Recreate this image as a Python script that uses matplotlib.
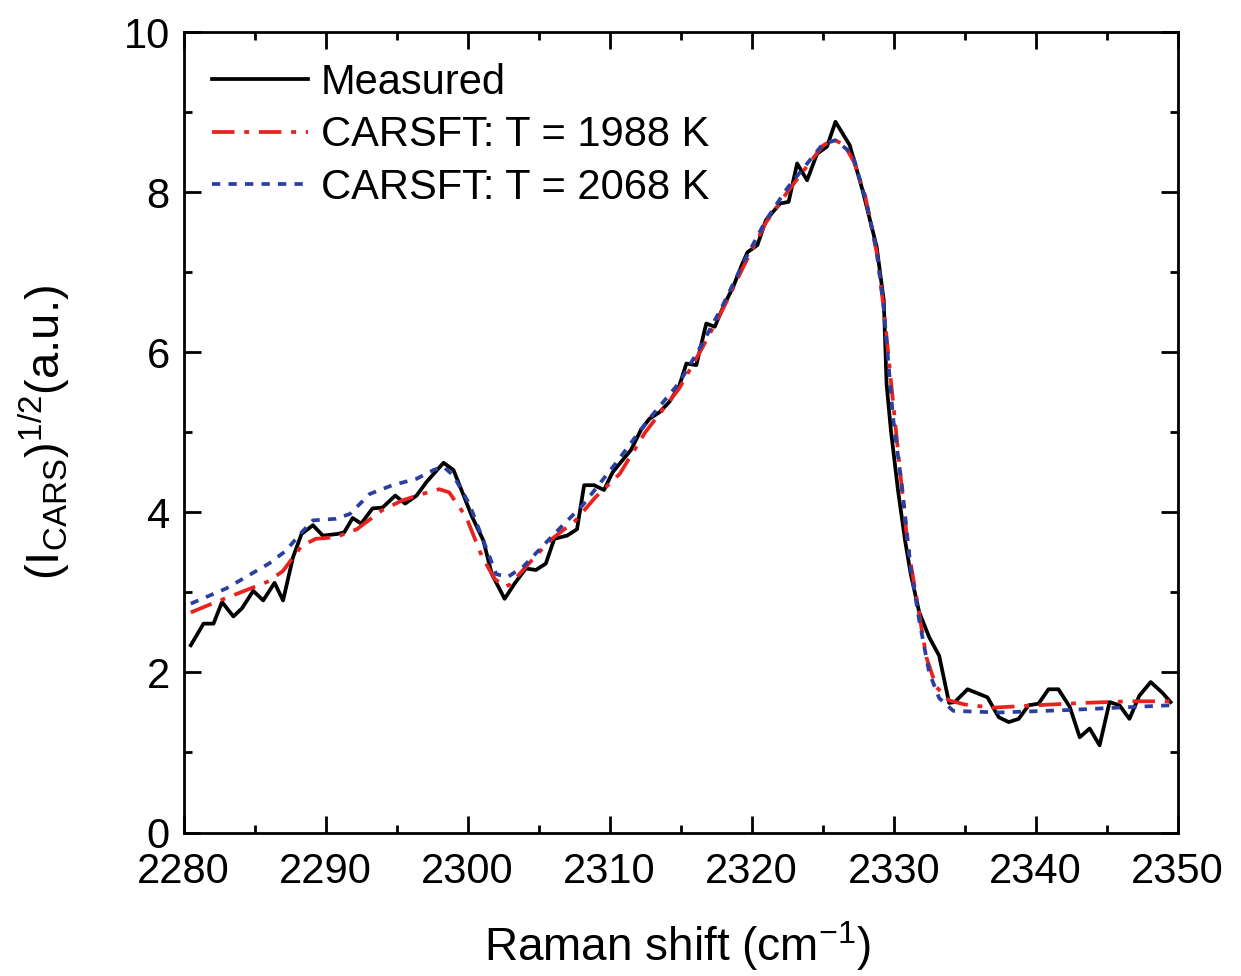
import numpy as np
import matplotlib
matplotlib.use("Agg")
import matplotlib.pyplot as plt
from matplotlib.ticker import MultipleLocator

plt.rcParams['font.family'] = ['Liberation Sans', 'DejaVu Sans']
plt.rcParams['mathtext.fontset'] = 'custom'
plt.rcParams['mathtext.rm'] = 'Liberation Sans'
plt.rcParams['mathtext.it'] = 'Liberation Sans'

# measured spectrum
meas_x = [2280.5, 2281.4, 2282.1, 2282.7, 2283.5, 2284.1, 2284.9, 2285.6, 2286.4, 2287.0,
          2287.7, 2288.3, 2289.1, 2289.8, 2290.8, 2291.3, 2291.9, 2292.5, 2293.3, 2294.0,
          2294.9, 2295.6, 2296.4, 2297.1, 2298.3, 2299.0, 2300.3, 2301.1, 2301.7, 2302.6,
          2303.3, 2304.1, 2304.8, 2305.5, 2306.1, 2307.0, 2307.7, 2308.2, 2308.9, 2309.6,
          2310.2, 2310.8, 2311.5, 2312.2, 2312.8, 2313.5, 2314.2, 2314.9, 2315.4, 2316.1,
          2316.8, 2317.4, 2318.0, 2318.7, 2319.3, 2319.7, 2320.4, 2321.0, 2322.0, 2322.6,
          2323.2, 2323.9, 2324.6, 2325.3, 2325.9, 2326.9, 2327.8, 2328.8, 2329.3, 2329.5,
          2329.8, 2330.3, 2330.8, 2331.2, 2331.8, 2332.5, 2333.2, 2333.9, 2334.3, 2335.2,
          2336.6, 2337.4, 2338.1, 2338.8, 2339.5, 2340.2, 2340.9, 2341.6, 2342.4, 2343.1,
          2343.8, 2344.5, 2345.2, 2345.9, 2346.6, 2347.3, 2348.1, 2348.9, 2349.5]
meas_y = [2.34, 2.61, 2.61, 2.88, 2.70, 2.80, 3.02, 2.90, 3.12, 2.90,
          3.44, 3.73, 3.84, 3.71, 3.73, 3.75, 3.93, 3.86, 4.05, 4.06,
          4.21, 4.11, 4.21, 4.38, 4.62, 4.53, 3.95, 3.65, 3.23, 2.92,
          3.11, 3.30, 3.28, 3.36, 3.67, 3.71, 3.79, 4.34, 4.34, 4.28,
          4.50, 4.63, 4.78, 5.03, 5.17, 5.25, 5.38, 5.58, 5.86, 5.84,
          6.36, 6.32, 6.57, 6.82, 7.09, 7.25, 7.34, 7.65, 7.86, 7.88,
          8.36, 8.15, 8.48, 8.57, 8.88, 8.59, 8.03, 7.32, 6.65, 5.60,
          5.03, 4.28, 3.65, 3.23, 2.75, 2.44, 2.21, 1.62, 1.63, 1.79,
          1.69, 1.44, 1.38, 1.42, 1.59, 1.61, 1.79, 1.79, 1.57, 1.19,
          1.30, 1.09, 1.63, 1.59, 1.42, 1.71, 1.88, 1.75, 1.63]

# CARSFT fit, T = 1988 K
fit1_x = [2280.5, 2282.0, 2284.0, 2286.0, 2287.0, 2288.3, 2289.3, 2290.7, 2292.2, 2294.0,
          2295.4, 2296.8, 2298.0, 2298.7, 2299.9, 2301.0, 2301.9, 2302.6, 2303.0, 2304.1,
          2305.8, 2307.6, 2309.0, 2310.7, 2312.5, 2314.9, 2316.5, 2318.0, 2319.5, 2321.0,
          2322.5, 2324.0, 2325.0, 2325.7, 2326.5, 2327.2, 2328.0, 2328.8, 2329.3, 2329.8,
          2330.4, 2331.0, 2331.6, 2332.3, 2333.0, 2333.9, 2335.0, 2337.0, 2340.0, 2343.4,
          2346.7, 2349.5]
fit1_y = [2.75, 2.86, 3.00, 3.14, 3.27, 3.58, 3.67, 3.69, 3.79, 4.03,
          4.15, 4.23, 4.29, 4.25, 3.94, 3.45, 3.17, 3.07, 3.10, 3.32,
          3.65, 3.90, 4.19, 4.48, 5.00, 5.55, 6.05, 6.55, 7.10, 7.62,
          8.00, 8.35, 8.58, 8.66, 8.60, 8.38, 7.95, 7.25, 6.55, 5.65,
          4.60, 3.57, 2.94, 2.19, 1.82, 1.65, 1.60, 1.56, 1.59, 1.62,
          1.64, 1.64]

# CARSFT fit, T = 2068 K
fit2_x = [2280.5, 2283.0, 2286.0, 2287.2, 2288.2, 2289.1, 2290.7, 2291.7, 2293.1, 2294.7,
          2296.4, 2297.6, 2298.3, 2299.0, 2300.1, 2301.1, 2302.0, 2302.8, 2303.9, 2306.2,
          2308.1, 2310.5, 2312.6, 2314.9, 2316.5, 2318.0, 2319.5, 2321.0, 2322.5, 2324.0,
          2325.0, 2325.9, 2327.1, 2328.1, 2328.8, 2329.25, 2329.95, 2330.6, 2331.2, 2331.8,
          2332.5, 2333.2, 2334.2, 2337.4, 2342.2, 2345.7, 2349.5]
fit2_y = [2.86, 3.05, 3.36, 3.52, 3.73, 3.90, 3.92, 3.98, 4.23, 4.34,
          4.42, 4.53, 4.57, 4.46, 4.11, 3.65, 3.23, 3.19, 3.32, 3.75,
          4.09, 4.63, 5.13, 5.62, 6.10, 6.60, 7.15, 7.65, 8.05, 8.38,
          8.60, 8.65, 8.48, 7.86, 7.27, 6.65, 5.19, 4.30, 3.30, 2.65,
          2.00, 1.68, 1.52, 1.50, 1.53, 1.56, 1.59]

fig = plt.figure(figsize=(12.41, 9.76), dpi=100)
ax = fig.add_axes([0.148, 0.147, 0.801, 0.820])

ax.plot(meas_x, meas_y, color='black', lw=2.7, label='Measured')
ax.plot(fit1_x, fit1_y, color='#e8231f', lw=2.7, dashes=(6, 2.6, 1.3, 2.6),
        label='CARSFT: T = 1988 K')
ax.plot(fit2_x, fit2_y, color='#2b3fa0', lw=2.7, dashes=(2.2, 2.2),
        label='CARSFT: T = 2068 K')

ax.set_xlim(2280, 2350)
ax.set_ylim(0, 10)
ax.xaxis.set_major_locator(MultipleLocator(10))
ax.xaxis.set_minor_locator(MultipleLocator(5))
ax.yaxis.set_major_locator(MultipleLocator(2))
ax.yaxis.set_minor_locator(MultipleLocator(1))
ax.tick_params(which='both', direction='in', top=True, right=True, width=2,
               labelsize=30)
ax.tick_params(axis='x', which='both', pad=14)
ax.tick_params(axis='y', which='both', pad=10)
ax.tick_params(which='major', length=12)
ax.tick_params(which='minor', length=6)
for s in ax.spines.values():
    s.set_linewidth(2)

ax.set_xlabel(r'Raman shift (cm$^{\mathregular{-1}}$)', fontsize=33)
ax.set_ylabel(r'(I$_{\mathregular{CARS}}$)$^{1/2}$(a.u.)', fontsize=34)
ax.xaxis.set_label_coords(0.497, -0.108)
ax.yaxis.set_label_coords(-0.112, 0.5)

ax.legend(loc='upper left', frameon=False, fontsize=30, handlelength=2.3,
          handletextpad=0.3, labelspacing=0.3, borderpad=0, borderaxespad=0,
          bbox_to_anchor=(0.029, 0.962))

fig.savefig('out.png', dpi=100)
